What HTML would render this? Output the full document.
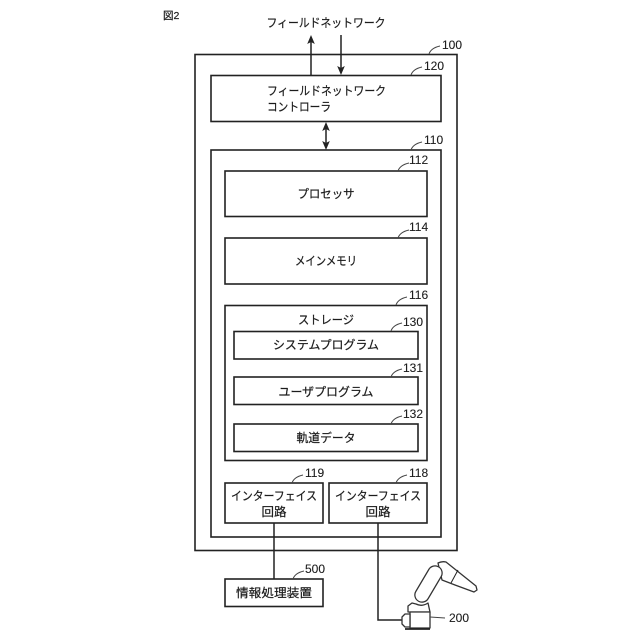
<!DOCTYPE html>
<html><head><meta charset="utf-8"><style>
html,body{margin:0;padding:0;background:#fff}
svg{display:block}
text{font-family:"Liberation Sans","Noto Sans CJK JP",sans-serif;font-size:12px;fill:#1c1c1c;stroke:#1c1c1c;stroke-width:.22px}
.c{text-anchor:middle}
.n{font-size:12px;stroke-width:.1px}
rect{fill:#fff;stroke:#222;stroke-width:1.6}
.l{fill:none;stroke:#222;stroke-width:1.5}
.t{fill:none;stroke:#444;stroke-width:1}
.r{fill:#fff;stroke:#333;stroke-width:1.3;stroke-linejoin:round}
.a{fill:#222;stroke:none}
</style></head><body>
<svg width="640" height="640" viewBox="0 0 640 640" xmlns="http://www.w3.org/2000/svg">
<text x="163" y="19" style="font-size:10.500px">図2</text>
<text x="326" y="27" class="c" textLength="119" lengthAdjust="spacingAndGlyphs">フィールドネットワーク</text>

<rect x="195" y="54.500" width="262" height="496"/>
<rect x="211" y="75.500" width="230" height="46"/>
<rect x="211" y="150" width="230" height="387"/>
<rect x="225" y="171" width="202" height="45.500"/>
<rect x="225" y="238" width="202" height="46"/>
<rect x="225" y="305.500" width="202" height="155"/>
<rect x="234" y="331.500" width="184" height="27.500"/>
<rect x="234" y="377" width="184" height="27.500"/>
<rect x="234" y="424" width="184" height="27.500"/>
<rect x="225" y="483" width="98" height="40"/>
<rect x="329" y="483" width="98" height="40"/>
<rect x="225" y="579" width="98" height="27.500"/>

<path class="l" d="M311 75V40M341 35V70M326 126V146M274 523V579M378 523V620H402"/>
<path class="a" d="M311 35l-3.800 9 3.800-2 3.800 2zM341 75l-3.800-9 3.800 2 3.800-2zM326 122l-3.800 9 3.800-2 3.800 2zM326 150l-3.800-9 3.800 2 3.800-2z"/>

<text x="267" y="95" textLength="119" lengthAdjust="spacingAndGlyphs">フィールドネットワーク</text>
<text x="267" y="111" textLength="64" lengthAdjust="spacingAndGlyphs">コントローラ</text>
<text x="326" y="198" class="c" textLength="57" lengthAdjust="spacingAndGlyphs">プロセッサ</text>
<text x="326" y="265" class="c" textLength="62" lengthAdjust="spacingAndGlyphs">メインメモリ</text>
<text x="326" y="324" class="c" textLength="56" lengthAdjust="spacingAndGlyphs">ストレージ</text>
<text x="326" y="349" class="c" textLength="106" lengthAdjust="spacingAndGlyphs">システムプログラム</text>
<text x="326" y="396" class="c" textLength="95" lengthAdjust="spacingAndGlyphs">ユーザプログラム</text>
<text x="326" y="442" class="c" textLength="59" lengthAdjust="spacingAndGlyphs">軌道データ</text>
<text x="274" y="500" class="c" textLength="86" lengthAdjust="spacingAndGlyphs">インターフェイス</text>
<text x="274" y="516" class="c" textLength="25" lengthAdjust="spacingAndGlyphs">回路</text>
<text x="378" y="500" class="c" textLength="86" lengthAdjust="spacingAndGlyphs">インターフェイス</text>
<text x="378" y="516" class="c" textLength="25" lengthAdjust="spacingAndGlyphs">回路</text>
<text x="274" y="597" class="c" textLength="76" lengthAdjust="spacingAndGlyphs">情報処理装置</text>

<path class="t" d="M429 54q2-6 11-8M411 75q2-6 11-8M411 150q2-6 11-8M398 171q2-6 11-8M398 238q2-6 11-8M396 305q2-6 11-8M391 331q2-6 11-8M391 377q2-6 11-8M391 424q2-6 11-8M292 483q2-6 11-8M396 483q2-6 11-8M293 579q2-6 11-8"/>
<text class="n" x="442" y="49">100</text>
<text class="n" x="424" y="70">120</text>
<text class="n" x="424" y="144">110</text>
<text class="n" x="409" y="164">112</text>
<text class="n" x="409" y="231">114</text>
<text class="n" x="409" y="299">116</text>
<text class="n" x="403" y="326">130</text>
<text class="n" x="403" y="372">131</text>
<text class="n" x="403" y="418">132</text>
<text class="n" x="305" y="477">119</text>
<text class="n" x="409" y="477">118</text>
<text class="n" x="305" y="573">500</text>
<text class="n" x="449" y="622">200</text>

<path class="r" d="M438 563Q442 561 446 562L476 586L477 590L474 592L455 585L442 580Z"/>
<path class="l" style="stroke-width:1" d="M458 570L451 583"/>
<path d="M435 573L422 595" fill="none" stroke="#333" stroke-width="15.500" stroke-linecap="round"/>
<path d="M435 573L422 595" fill="none" stroke="#fff" stroke-width="13" stroke-linecap="round"/>
<path class="r" d="M408 606L412 603L416 604Q422 607 428 603L430 612H408Z"/>
<path class="r" d="M410 612H430V628H410Z"/>
<path class="r" d="M402 617L405 614H410V627H405L402 624Z"/>
<path class="l" style="stroke-width:1.800" d="M405 629H430"/>
<path class="t" d="M430 617L445 618"/>
</svg>
</body></html>
